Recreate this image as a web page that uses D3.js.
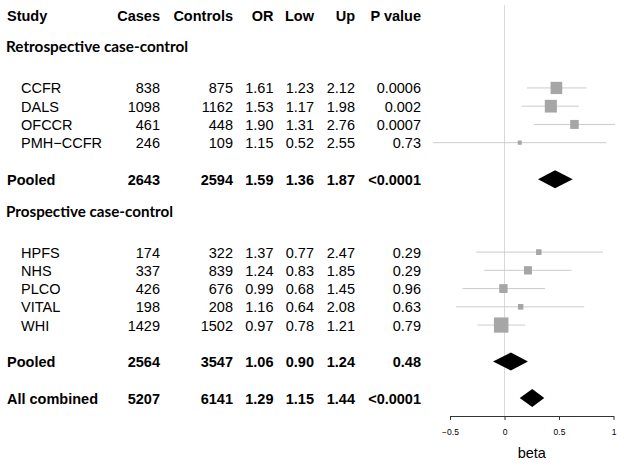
<!DOCTYPE html>
<html>
<head>
<meta charset="utf-8">
<script src="https://cdn.jsdelivr.net/npm/d3@7"></script>
<style>
  html, body { margin: 0; padding: 0; background: #fff; }
  svg { display: block; }
</style>
</head>
<body>
<svg id="chart" width="624" height="469"></svg>
<script>
// ---- data ----
const headers = ["Study", "Cases", "Controls", "OR", "Low", "Up", "P value"];
const sections = ["Retrospective case-control", "Prospective case-control"];
const studies = ["CCFR", "DALS", "OFCCR", "PMH\u2212CCFR", "Pooled", "HPFS", "NHS", "PLCO", "VITAL", "WHI", "Pooled", "All combined"];
const rowType = ["study", "study", "study", "study", "pooled", "study", "study", "study", "study", "study", "pooled", "pooled"];
const cases = [838, 1098, 461, 246, 2643, 174, 337, 426, 198, 1429, 2564, 5207];
const controls = [875, 1162, 448, 109, 2594, 322, 839, 676, 208, 1502, 3547, 6141];
const orVals = [1.61, 1.53, 1.90, 1.15, 1.59, 1.37, 1.24, 0.99, 1.16, 0.97, 1.06, 1.29];
const lowVals = [1.23, 1.17, 1.31, 0.52, 1.36, 0.77, 0.83, 0.68, 0.64, 0.78, 0.90, 1.15];
const upVals = [2.12, 1.98, 2.76, 2.55, 1.87, 2.47, 1.85, 1.45, 2.08, 1.21, 1.24, 1.44];
const pVals = ["0.0006", "0.002", "0.0007", "0.73", "<0.0001", "0.29", "0.29", "0.96", "0.63", "0.79", "0.48", "<0.0001"];
const rowIndex = [4, 5, 6, 7, 9, 13, 14, 15, 16, 17, 19, 21];
const sectionRow = [1.7, 10.8];
const xTicks = [-0.5, 0, 0.5, 1];

// ---- layout ----
const svg = d3.select("#chart");
const y = d3.scaleLinear().domain([0, 21]).range([15, 398]);
const x = d3.scaleLinear().domain([-0.5, 1]).range([450, 613.5]);
const axisY = 416;

const fontMain = "'Liberation Sans', Arial, sans-serif";
const fontSec = "Lato, 'Open Sans', sans-serif";
const fs = 14.5;

// column right edges (text columns)
const colX = [7, 160, 233, 273.5, 314, 355, 421];

// zero reference line
svg.append("line")
  .attr("x1", x(0)).attr("x2", x(0))
  .attr("y1", 5).attr("y2", axisY)
  .attr("stroke", "#d9d9d9").attr("stroke-width", 1);

// header
svg.append("g").selectAll("text").data(headers).join("text")
  .attr("x", (d, i) => colX[i])
  .attr("y", y(0) + 5.5)
  .attr("text-anchor", (d, i) => i === 0 ? "start" : "end")
  .attr("font-family", fontMain)
  .attr("font-weight", "bold")
  .attr("font-size", fs)
  .attr("fill", "#000")
  .text(d => d);

// section labels
const secWidths = [182, 167];
svg.append("g").selectAll("text").data(sections).join("text")
  .attr("x", 6)
  .attr("y", (d, i) => y(sectionRow[i]) + 5.5)
  .attr("font-family", fontSec)
  .attr("font-weight", "bold")
  .attr("font-size", 15.5)
  .attr("textLength", (d, i) => secWidths[i])
  .attr("lengthAdjust", "spacingAndGlyphs")
  .attr("fill", "#000")
  .text(d => d);

// table rows
const rows = studies.map((s, i) => ({
  study: s, type: rowType[i], cases: cases[i], controls: controls[i],
  or: orVals[i], low: lowVals[i], up: upVals[i], p: pVals[i], k: rowIndex[i]
}));

const rowG = svg.append("g").selectAll("g").data(rows).join("g")
  .attr("transform", d => `translate(0,${y(d.k) + 5.5})`)
  .attr("font-family", fontMain)
  .attr("font-size", fs)
  .attr("font-weight", d => d.type === "pooled" ? "bold" : "normal")
  .attr("fill", "#000");

rowG.each(function(d) {
  const g = d3.select(this);
  const cells = [d.study, String(d.cases), String(d.controls), d.or.toFixed(2), d.low.toFixed(2), d.up.toFixed(2), d.p];
  cells.forEach((c, i) => {
    g.append("text")
      .attr("x", i === 0 ? (d.type === "pooled" ? 7 : 21) : colX[i])
      .attr("text-anchor", i === 0 ? "start" : "end")
      .text(c);
  });
});

// forest marks
const studyRows = rows.filter(d => d.type === "study");
const pooledRows = rows.filter(d => d.type === "pooled");
const se = d => (Math.log(d.up) - Math.log(d.low)) / (2 * 1.96);
const wt = d => 1 / (se(d) * se(d));
const size = d3.scaleSqrt().domain([0, d3.max(studyRows, wt)]).range([0, 14.5]);

svg.append("g").selectAll("line").data(studyRows).join("line")
  .attr("x1", d => x(Math.log(d.low)))
  .attr("x2", d => x(Math.log(d.up)))
  .attr("y1", d => y(d.k)).attr("y2", d => y(d.k))
  .attr("stroke", "#cccccc").attr("stroke-width", 1);

svg.append("g").selectAll("rect").data(studyRows).join("rect")
  .attr("x", d => x(Math.log(d.or)) - size(wt(d)) / 2)
  .attr("y", d => y(d.k) - size(wt(d)) * 1.05 / 2)
  .attr("width", d => size(wt(d)))
  .attr("height", d => size(wt(d)) * 1.05)
  .attr("fill", "#a6a6a6");

svg.append("g").selectAll("path").data(pooledRows).join("path")
  .attr("d", d => {
    const cy = y(d.k), h = 9;
    return `M${x(Math.log(d.low))},${cy}L${x(Math.log(d.or))},${cy - h}L${x(Math.log(d.up))},${cy}L${x(Math.log(d.or))},${cy + h}Z`;
  })
  .attr("fill", "#000");

// axis
const axis = d3.axisBottom(x).tickValues(xTicks).tickSize(4).tickSizeOuter(0)
  .tickFormat(d => d === 0 ? "0" : String(d).replace("-", "\u2212"));
const ag = svg.append("g").attr("transform", `translate(0,${axisY})`).call(axis);
ag.select(".domain").attr("stroke", "#333");
ag.selectAll(".tick line").attr("stroke", "#333");
ag.selectAll(".tick text")
  .attr("font-family", fontMain)
  .attr("font-size", 8.5)
  .attr("fill", "#000")
  .attr("dy", "1.45em");

svg.append("text")
  .attr("x", x(0.25))
  .attr("y", 458)
  .attr("text-anchor", "middle")
  .attr("font-family", fontMain)
  .attr("font-size", 14.5)
  .attr("fill", "#000")
  .text("beta");
</script>
</body>
</html>
